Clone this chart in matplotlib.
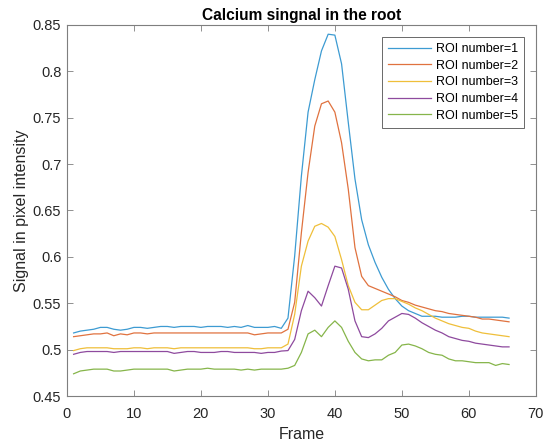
import numpy as np
import matplotlib
matplotlib.use("Agg")
import matplotlib.pyplot as plt
import matplotlib.ticker as ticker

plt.rcParams['font.family'] = ['Liberation Sans', 'DejaVu Sans']

# Frame index 1..66
frames = np.arange(1, 67)

roi1 = [0.518, 0.520, 0.521, 0.522, 0.524, 0.524, 0.522, 0.521, 0.522, 0.524, 0.524,
        0.523, 0.524, 0.525, 0.525, 0.524, 0.525, 0.525, 0.525, 0.524, 0.525, 0.525,
        0.525, 0.524, 0.525, 0.524, 0.526, 0.524, 0.524, 0.524, 0.525, 0.523,
        0.534, 0.601, 0.687, 0.756, 0.791, 0.822, 0.840, 0.839, 0.808, 0.745, 0.684,
        0.640, 0.613, 0.594, 0.578, 0.565, 0.555, 0.547, 0.542, 0.539, 0.536, 0.536,
        0.536, 0.535, 0.535, 0.535, 0.536, 0.536, 0.535, 0.535, 0.535, 0.535, 0.535, 0.534]
roi2 = [0.514, 0.515, 0.516, 0.517, 0.517, 0.518, 0.515, 0.517, 0.516, 0.518, 0.518,
        0.517, 0.518, 0.518, 0.518, 0.518, 0.518, 0.518, 0.518, 0.518, 0.518, 0.518,
        0.518, 0.518, 0.518, 0.518, 0.518, 0.516, 0.517, 0.518, 0.518, 0.518,
        0.522, 0.551, 0.626, 0.691, 0.741, 0.765, 0.768, 0.756, 0.723, 0.673, 0.610,
        0.579, 0.569, 0.566, 0.563, 0.560, 0.557, 0.553, 0.551, 0.548, 0.546, 0.544,
        0.542, 0.541, 0.539, 0.538, 0.537, 0.536, 0.535, 0.533, 0.533, 0.532, 0.531, 0.530]
roi3 = [0.499, 0.501, 0.502, 0.502, 0.502, 0.502, 0.501, 0.501, 0.501, 0.502, 0.502,
        0.501, 0.502, 0.502, 0.502, 0.501, 0.502, 0.502, 0.502, 0.502, 0.502, 0.502,
        0.502, 0.502, 0.502, 0.502, 0.502, 0.501, 0.501, 0.502, 0.502, 0.502,
        0.506, 0.538, 0.590, 0.617, 0.633, 0.636, 0.632, 0.622, 0.597, 0.569, 0.551,
        0.543, 0.543, 0.548, 0.553, 0.555, 0.555, 0.552, 0.549, 0.545, 0.542, 0.538,
        0.534, 0.531, 0.528, 0.526, 0.524, 0.523, 0.520, 0.518, 0.517, 0.516, 0.515, 0.514]
roi4 = [0.495, 0.497, 0.498, 0.498, 0.498, 0.498, 0.497, 0.498, 0.498, 0.498, 0.498,
        0.498, 0.498, 0.498, 0.498, 0.496, 0.497, 0.498, 0.498, 0.497, 0.497, 0.497,
        0.498, 0.498, 0.497, 0.497, 0.497, 0.497, 0.496, 0.497, 0.497, 0.4985,
        0.499, 0.511, 0.542, 0.563, 0.556, 0.547, 0.569, 0.590, 0.588, 0.565, 0.531,
        0.514, 0.513, 0.517, 0.523, 0.531, 0.535, 0.539, 0.538, 0.534, 0.529, 0.525,
        0.521, 0.518, 0.514, 0.512, 0.510, 0.509, 0.507, 0.506, 0.505, 0.504, 0.503, 0.503]
roi5 = [0.474, 0.477, 0.478, 0.479, 0.479, 0.479, 0.477, 0.477, 0.478, 0.479, 0.479,
        0.479, 0.479, 0.479, 0.479, 0.477, 0.478, 0.479, 0.479, 0.479, 0.480, 0.479,
        0.479, 0.479, 0.479, 0.478, 0.479, 0.478, 0.479, 0.479, 0.479, 0.479,
        0.480, 0.483, 0.497, 0.517, 0.521, 0.514, 0.524, 0.531, 0.524, 0.509, 0.497,
        0.490, 0.488, 0.489, 0.489, 0.494, 0.497, 0.505, 0.506, 0.504, 0.501, 0.497,
        0.495, 0.494, 0.490, 0.488, 0.488, 0.487, 0.486, 0.486, 0.486, 0.483, 0.485, 0.484]

series = [roi1, roi2, roi3, roi4, roi5]
labels = ['ROI number=%d' % (i + 1) for i in range(5)]
colors = ['#3d9bd2', '#e0723f', '#efbf3a', '#8e4a9e', '#86b54a']

fig = plt.figure(figsize=(5.44, 4.45), dpi=100)
ax = fig.add_axes([0.123, 0.110, 0.862, 0.834])

for y, lab, c in zip(series, labels, colors):
    ax.plot(frames, y, color=c, linewidth=0.9, label=lab)

ax.set_xlim(0, 70)
ax.set_ylim(0.45, 0.85)
ax.xaxis.set_major_locator(ticker.MultipleLocator(10))
ax.yaxis.set_major_locator(ticker.MultipleLocator(0.05))
ax.yaxis.set_major_formatter(ticker.FormatStrFormatter('%g'))
ax.tick_params(direction='in', length=4, width=0.6, top=True, right=True,
               labelsize=10.5, colors='#7f7f7f', labelcolor='#262626')
ax.tick_params(axis='x', pad=8)
ax.tick_params(axis='y', pad=4)
for s in ax.spines.values():
    s.set_color('#7f7f7f')
    s.set_linewidth(0.8)

ax.set_title('Calcium singnal in the root', fontsize=11.2, fontweight='bold', pad=3.5)
ax.set_xlabel('Frame', fontsize=11.5, color='#262626', labelpad=4)
ax.set_ylabel('Signal in pixel intensity', fontsize=11.5, color='#262626', labelpad=3)

leg = ax.legend(loc='upper right', fontsize=9, frameon=True, fancybox=False,
                handlelength=3.4, handletextpad=0.4, borderpad=0.5, labelspacing=0.37,
                borderaxespad=0.95)
leg.get_frame().set_edgecolor('#262626')
leg.get_frame().set_linewidth(0.6)

fig.savefig('out.png', dpi=100)
